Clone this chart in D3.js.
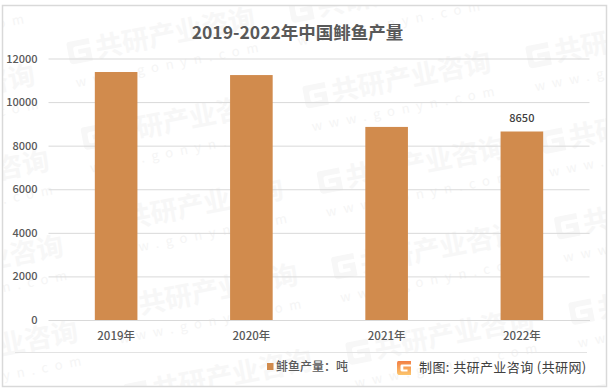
<!DOCTYPE html>
<html>
<head>
<meta charset="utf-8">
<script src="https://cdn.jsdelivr.net/npm/d3@7"></script>
<style>
  html, body { margin: 0; padding: 0; background: #fff; }
  svg { display: block; }
  text { font-family: "Noto Sans CJK SC", "Noto Sans", sans-serif; }
</style>
</head>
<body>
<div id="chart-area"></div>
<script>
/* 2019-2022 output chart */

var categories = ["2019年", "2020年", "2021年", "2022年"];
var values = [11380, 11240, 8860, 8650];
var labels = [null, null, null, "8650"];
var yTicks = [0, 2000, 4000, 6000, 8000, 10000, 12000];

var titleText = "2019-2022年中国鲱鱼产量";
var legendText = "鲱鱼产量：吨";
var sourceText = "制图: 共研产业咨询 (共研网)";

var margin = {left: 48.5, right: 22.5, top: 58.5, bottom: 70};
var width = 612 - margin.left - margin.right;
var height = 390 - margin.top - margin.bottom;

var svg = d3.select("#chart-area")
  .append("svg")
    .attr("width", 612)
    .attr("height", 390);

// watermark, drawn under everything
var defs = svg.append("defs");

defs.append("clipPath")
  .attr("id", "frame-clip")
  .append("rect")
    .attr("x", 3)
    .attr("y", 6)
    .attr("width", 603)
    .attr("height", 380);

var grad = defs.append("linearGradient")
  .attr("id", "logo-grad")
  .attr("x1", 0).attr("y1", 0)
  .attr("x2", 0).attr("y2", 1);
grad.append("stop").attr("offset", "0%").attr("stop-color", "#f27f45");
grad.append("stop").attr("offset", "100%").attr("stop-color", "#fcc56c");

function logoMark(sel, size, color) {
  var s = size / 20;
  sel.append("path")
    .attr("d", "M2 0H20V5H7Q5 5 5 7V13Q5 15 7 15H15V12H9V8H20V20H4Q0 20 0 16V3Q0 0 2 0Z")
    .attr("transform", "scale(" + s + ")")
    .attr("fill", color);
}

var wmColumns = [[-150, 100], [70, 43], [306, 87], [529, 47]];
var wmRows = [-1, 0, 1, 2, 3, 4];

var wm = svg.append("g")
  .attr("class", "watermark")
  .attr("clip-path", "url(#frame-clip)");

wmColumns.forEach(function(c) {
  wmRows.forEach(function(r) {
    var m = wm.append("g")
      .attr("transform", "translate(" + (c[0] + r * 14.3) + "," + (c[1] + r * 85.5 + 20) + ") rotate(-11)");
    m.append("g")
      .attr("transform", "translate(0,-21)")
      .call(logoMark, 23, "#f7f7f7");
    m.append("text")
      .attr("x", 28)
      .attr("y", 0)
      .attr("font-size", 27)
      .attr("font-weight", 700)
      .attr("fill", "#f7f7f7")
      .text("共研产业咨询");
    m.append("text")
      .attr("x", 2)
      .attr("y", 25)
      .attr("font-size", 13)
      .attr("letter-spacing", 7)
      .attr("fill", "#f5f5f5")
      .text("www.gonyn.com");
  });
});

// outer frame
svg.append("rect")
  .attr("x", 2.5)
  .attr("y", 5.5)
  .attr("width", 604)
  .attr("height", 381)
  .attr("fill", "none")
  .attr("stroke", "#d9d9d9")
  .attr("stroke-width", 1.5);

var g = svg.append("g")
  .attr("transform", "translate(" + margin.left + "," + margin.top + ")");

var x = d3.scaleBand()
  .domain(categories)
  .range([0, width])
  .paddingInner(0.685)
  .paddingOuter(0.3425);

var y = d3.scaleLinear()
  .domain([0, 12000])
  .range([height, 0]);

// y axis with the gridlines as tick lines
var yAxisCall = d3.axisLeft(y)
  .tickValues(yTicks)
  .tickSize(-width)
  .tickPadding(11)
  .tickFormat(d3.format("d"));

var yAxis = g.append("g")
  .attr("class", "y-axis")
  .call(yAxisCall);
yAxis.select(".domain").remove();
yAxis.selectAll("line").attr("stroke", "#d9d9d9").attr("stroke-width", 1);
yAxis.selectAll("text")
  .attr("font-size", 11)
  .attr("font-weight", 500)
  .attr("font-family", "'Noto Sans CJK SC'")
  .attr("fill", "#595959");

var bars = g.selectAll(".bar")
  .data(values)
  .enter().append("rect")
    .attr("class", "bar")
    .attr("x", (d, i) => x(categories[i]))
    .attr("y", d => y(d))
    .attr("width", x.bandwidth())
    .attr("height", d => height - y(d))
    .attr("fill", "#d18b4d");

// value labels
g.selectAll(".value-label")
  .data(values)
  .enter().append("text")
    .attr("class", "value-label")
    .attr("x", (d, i) => x(categories[i]) + x.bandwidth() / 2)
    .attr("y", d => y(d) - 10)
    .attr("text-anchor", "middle")
    .attr("font-size", 11)
    .attr("font-weight", 500)
    .attr("fill", "#404040")
    .text((d, i) => labels[i]);

var xAxisCall = d3.axisBottom(x)
  .tickSize(0)
  .tickPadding(12);

var xAxis = g.append("g")
  .attr("class", "x-axis")
  .attr("transform", "translate(0," + height + ")")
  .call(xAxisCall);
xAxis.select(".domain").attr("stroke", "#d9d9d9").attr("stroke-width", 1);
xAxis.selectAll("text")
  .attr("font-size", 11.5)
  .attr("font-weight", 500)
  .attr("font-family", "'Noto Sans CJK SC'")
  .attr("fill", "#595959");

// title
svg.append("text")
  .attr("x", 297.5)
  .attr("y", 39)
  .attr("text-anchor", "middle")
  .attr("font-size", 17.5)
  .attr("font-weight", 700)
  .attr("fill", "#595959")
  .text(titleText);

// rule above the legend
svg.append("line")
  .attr("x1", 15)
  .attr("x2", 587)
  .attr("y1", 352.5)
  .attr("y2", 352.5)
  .attr("stroke", "#e3e3e3");

// legend
svg.append("rect")
  .attr("x", 267)
  .attr("y", 363)
  .attr("width", 6.5)
  .attr("height", 7)
  .attr("fill", "#d18b4d");
svg.append("text")
  .attr("x", 276)
  .attr("y", 371)
  .attr("font-size", 12)
  .attr("font-weight", 500)
  .attr("fill", "#595959")
  .text(legendText);

// source line with logo
svg.append("g")
  .attr("transform", "translate(397,361)")
  .call(logoMark, 14, "url(#logo-grad)");
svg.append("text")
  .attr("x", 419)
  .attr("y", 372)
  .attr("font-size", 13)
  .attr("letter-spacing", 0.4)
  .attr("fill", "#404040")
  .text(sourceText);
</script>
</body>
</html>
